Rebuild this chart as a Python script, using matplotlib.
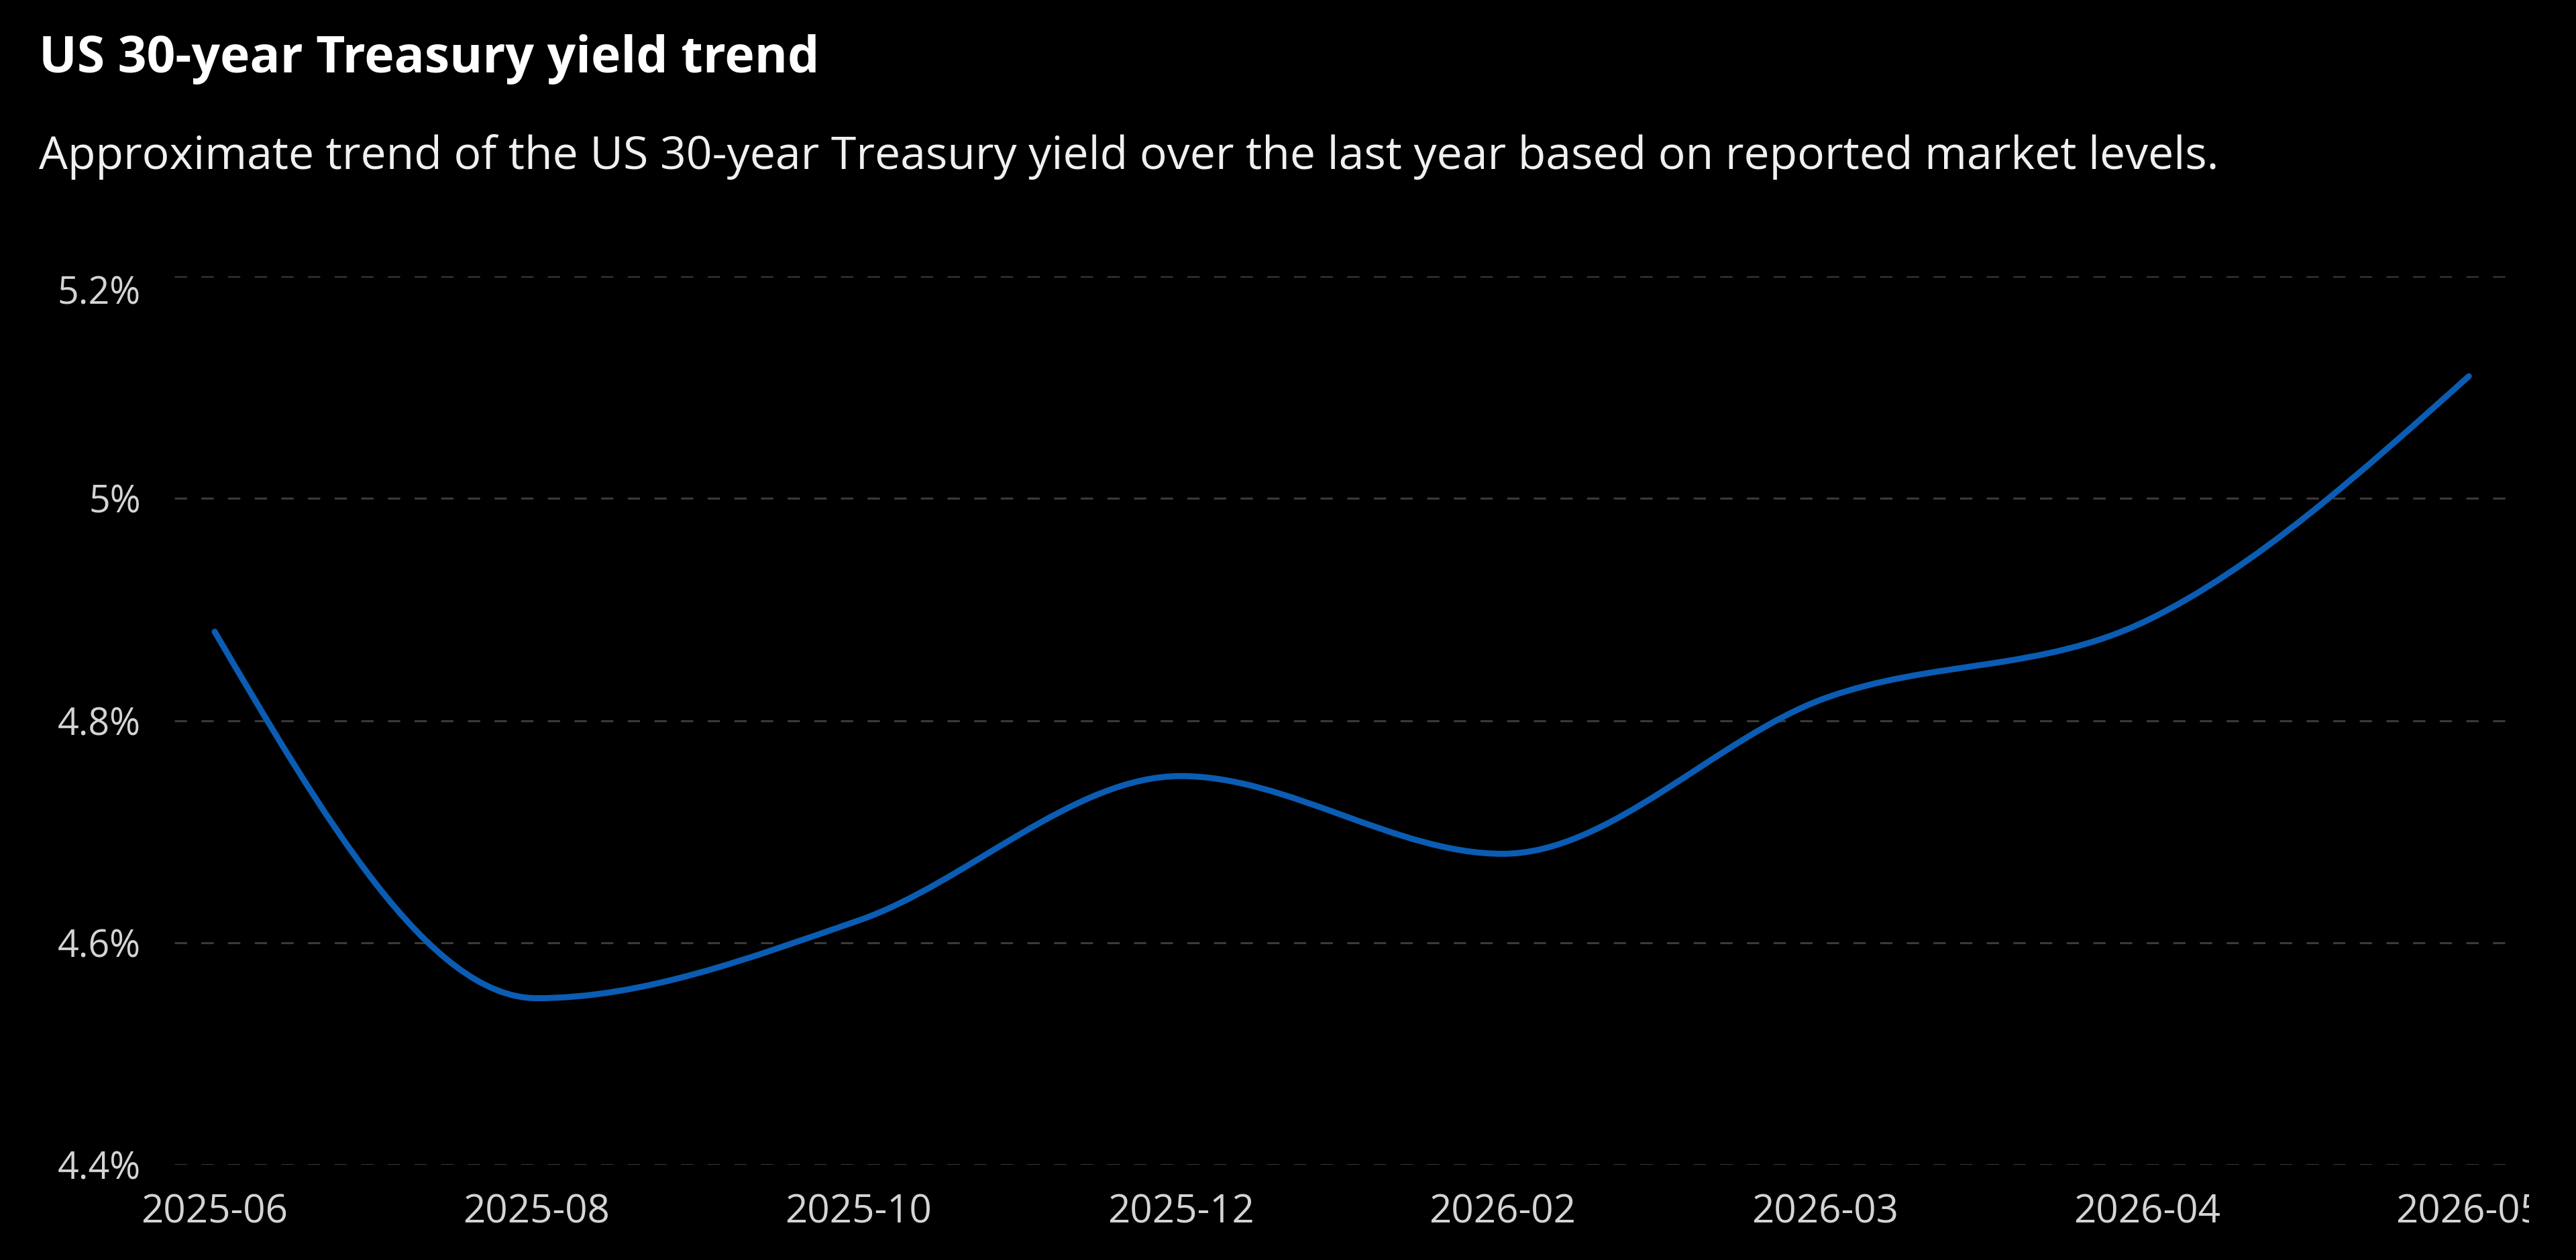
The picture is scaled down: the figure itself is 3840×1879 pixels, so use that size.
import numpy as np
import matplotlib
matplotlib.use("Agg")
import matplotlib.pyplot as plt
from matplotlib.path import Path
from matplotlib.patches import PathPatch
from matplotlib.transforms import Bbox, TransformedBbox, ScaledTranslation

# ---- data ----
months = ["2025-06", "2025-08", "2025-10", "2025-12", "2026-02", "2026-03", "2026-04", "2026-05"]
yields = [4.88, 4.55, 4.62, 4.75, 4.68, 4.82, 4.89, 5.11]
y_ticks = [4.4, 4.6, 4.8, 5.0, 5.2]
y_tick_labels = ["4.4%", "4.6%", "4.8%", "5%", "5.2%"]

title = "US 30-year Treasury yield trend"
subtitle = "Approximate trend of the US 30-year Treasury yield over the last year based on reported market levels."

FONT = ["Open Sans", "DejaVu Sans"]
plt.rcParams["font.family"] = FONT

W, H, DPI = 3840, 1879, 100
fig = plt.figure(figsize=(W / DPI, H / DPI), dpi=DPI, facecolor="black")

left, right = 260 / W, 3745 / W
bottom, top = 1 - 1737 / H, 1 - 412 / H
ax = fig.add_axes([left, bottom, right - left, top - bottom], facecolor="black")

x = np.arange(len(months), dtype=float)
y = np.array(yields, dtype=float)

# monotone cubic (d3 curveMonotoneX style) bezier path built from data points
n = len(x)
h = np.diff(x)
s = np.diff(y) / h
t = np.zeros(n)
for i in range(1, n - 1):
    s0, s1 = s[i - 1], s[i]
    if s0 * s1 <= 0:
        t[i] = 0.0
    else:
        p = (s0 * h[i] + s1 * h[i - 1]) / (h[i - 1] + h[i])
        t[i] = (np.sign(s0) + np.sign(s1)) * min(abs(s0), abs(s1), 0.5 * abs(p))
t[0] = (3 * s[0] - t[1]) / 2
t[-1] = (3 * s[-1] - t[-2]) / 2
verts = [(x[0], y[0])]
codes = [Path.MOVETO]
for i in range(n - 1):
    dx = (x[i + 1] - x[i]) / 3
    verts += [(x[i] + dx, y[i] + dx * t[i]),
              (x[i + 1] - dx, y[i + 1] - dx * t[i + 1]),
              (x[i + 1], y[i + 1])]
    codes += [Path.CURVE4] * 3
patch = PathPatch(Path(verts, codes), facecolor="none", edgecolor="#0b5cb3",
                  linewidth=9 * 72 / DPI, capstyle="round", joinstyle="round", zorder=3)
ax.add_patch(patch)

ax.set_xlim(-0.125, len(months) - 1 + 0.135)
ax.set_ylim(4.4, 5.2)

ax.set_xticks(x)
ax.set_xticklabels(months)
ax.set_yticks(y_ticks)
ax.set_yticklabels(y_tick_labels)

for sp in ax.spines.values():
    sp.set_visible(False)

ax.tick_params(axis="both", length=0, colors="#d4d4d4", labelsize=42)
ax.tick_params(axis="y", labelsize=40, pad=36)
ax.tick_params(axis="x", pad=30)
ax.grid(axis="y", color="#3a3a3a", linewidth=2.2, linestyle=(0, (6, 7)))
ax.grid(axis="x", visible=False)
ax.set_axisbelow(True)

# clip last x tick label as in the reference
clip = TransformedBbox(Bbox([[0, 0], [3770 / W, 1]]), fig.transFigure)
last = ax.xaxis.get_major_ticks()[-1].label1
last.set_clip_on(True)
last.set_clip_box(clip)

# top y label sits slightly below its gridline
toplab = ax.yaxis.get_major_ticks()[-1].label1
toplab.set_transform(toplab.get_transform() + ScaledTranslation(0, -20 / DPI, fig.dpi_scale_trans))

fig.text(58 / W, 1 - 108 / H, title, color="white", fontsize=54, fontweight="bold",
         ha="left", va="baseline")
fig.text(58 / W, 1 - 252 / H, subtitle, color="#f0f0f0", fontsize=49,
         ha="left", va="baseline")

fig.savefig("out.png", dpi=DPI, facecolor="black")
